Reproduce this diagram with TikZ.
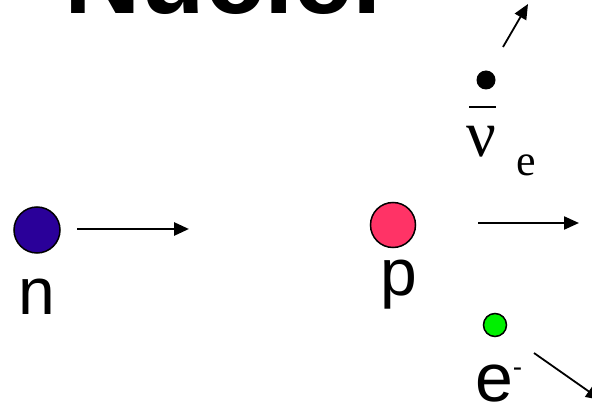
\documentclass[tikz,border=0pt]{standalone}
\usepackage{fontspec}
\setmainfont{Liberation Sans}
\newfontfamily\timesfont{Liberation Serif}
\usetikzlibrary{arrows.meta}
\definecolor{neutronblue}{RGB}{42,0,153}
\definecolor{protonred}{RGB}{255,51,102}
\definecolor{electrongreen}{RGB}{0,240,0}
\tikzset{
  particle/.style={circle,draw=black,line width=1.5pt,inner sep=0pt},
  lbl/.style={inner sep=0pt,outer sep=0pt,anchor=base west},
  motion/.style={line width=2.2pt,-{Triangle[length=15pt,width=13pt]}},
}
\begin{document}
\begin{tikzpicture}[x=1pt,y=-1pt]
\useasboundingbox (0,0) rectangle (592,406);
% title (cut off at the top)
\node[lbl] (title) at (64,14) {\fontsize{106}{106}\selectfont\bfseries Nuclei};
% neutron
\node[particle,fill=neutronblue,minimum size=46pt] (n) at (37,230) {};
\node[lbl] (nlabel) at (18,314) {\fontsize{66}{66}\selectfont n};
\coordinate (na) at (77,229);
\coordinate (nb) at (189,229);
\draw[motion,line width=2.8pt] (na) -- (nb);
% proton
\node[particle,fill=protonred,minimum size=45pt] (p) at (393,225) {};
\node[lbl] (plabel) at (380.5,296) {\fontsize{66}{66}\selectfont p};
\coordinate (pa) at (478,223);
\coordinate (pb) at (579,223);
\draw[motion] (pa) -- (pb);
% electron
\node[particle,fill=electrongreen,minimum size=23pt] (e) at (495,325) {};
\node[lbl] (elabel) at (475,401) {\fontsize{68}{68}\selectfont e\raisebox{25pt}{\fontsize{28}{28}\selectfont -}};
\coordinate (ea) at (534,353);
\coordinate (eb) at (601,400);
\draw[motion,line width=1.8pt] (ea) -- (eb);
% antineutrino
\node[circle,fill=black,inner sep=0pt,minimum size=19pt] (nu) at (486,80) {};
\coordinate (bara) at (469,107);
\coordinate (barb) at (496,107);
\draw[line width=2pt] (bara) -- (barb);
\node[lbl] (nulabel) at (466,157) {\timesfont\fontsize{66}{66}\selectfont ν};
\node[lbl] (nusub) at (516,176) {\timesfont\fontsize{44}{44}\selectfont e};
\coordinate (nua) at (503,47);
\coordinate (nub) at (528,4);
\draw[motion,line width=1.8pt] (nua) -- (nub);
\end{tikzpicture}
\end{document}
